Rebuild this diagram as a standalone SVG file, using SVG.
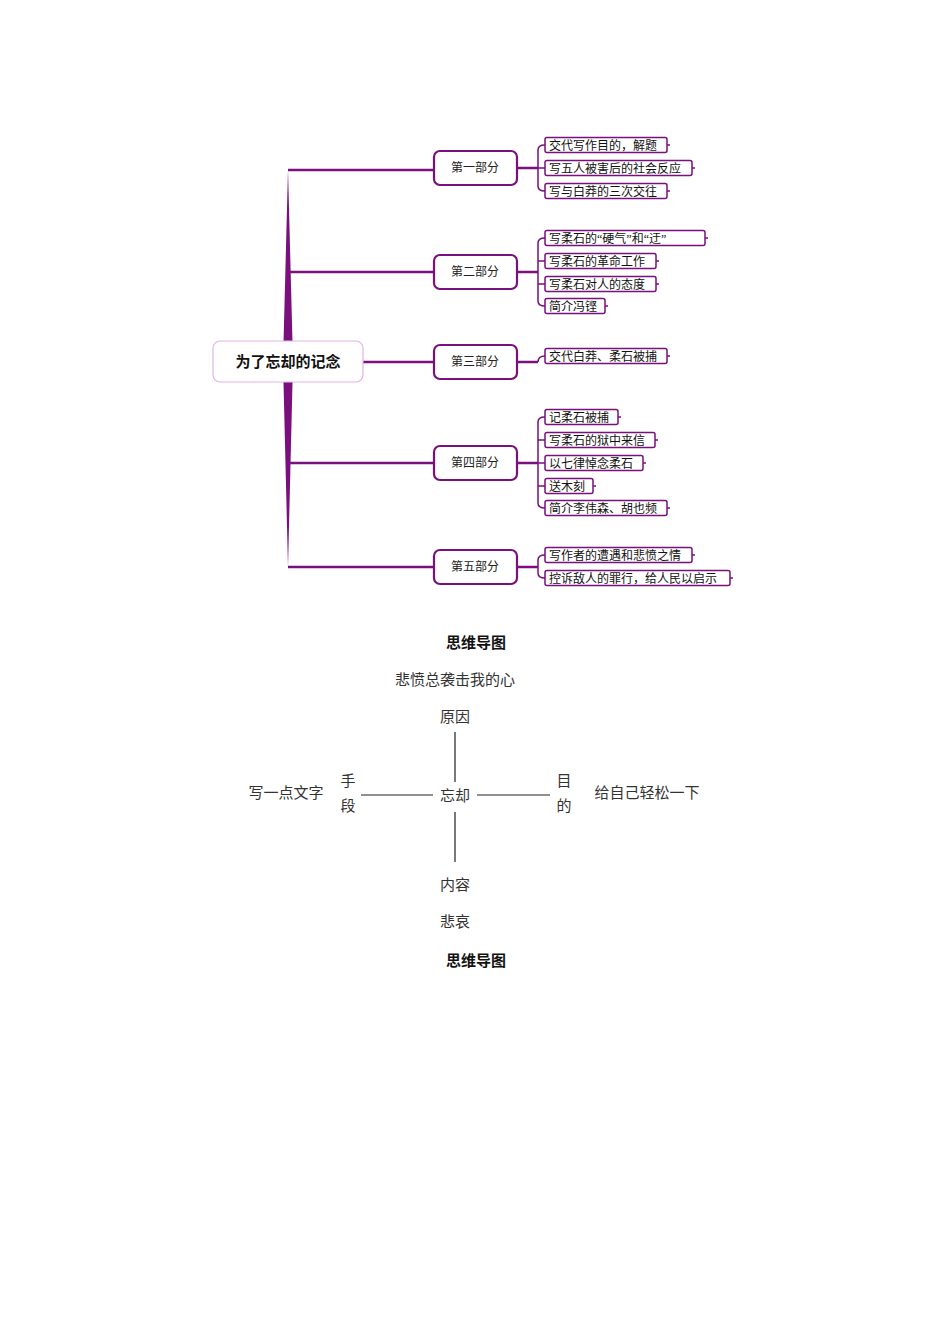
<svg xmlns="http://www.w3.org/2000/svg" width="950" height="1344" viewBox="0 0 950 1344">
<style>
.p{fill:#fff;stroke:#7a0f7e;stroke-width:2.2}
.l{fill:#fff;stroke:#7a0f7e;stroke-width:1.5}
.c{fill:none;stroke:#7a0f7e;stroke-width:2.5}
.cl{fill:none;stroke:#7a0f7e;stroke-width:1.5}
.t{font-family:"Liberation Serif","Noto Sans CJK SC",serif;font-size:12px;fill:#111}
.pt{font-family:"Liberation Serif","Noto Sans CJK SC",serif;font-size:12px;fill:#222;text-anchor:middle}
.b{font-family:"Noto Sans CJK SC",sans-serif;font-size:15px;font-weight:bold;fill:#111;text-anchor:middle}
.k{font-family:"Liberation Serif","Noto Sans CJK SC",serif;font-size:15px;fill:#333}
.x{stroke:#222;stroke-width:1.2}
</style>
<rect width="950" height="1344" fill="#fff"/>
<g id="connectors">
<polygon points="288,170 293,362 288,567 283,362" fill="#7a0f7e"/>
<path class="c" d="M288,170H434 M288,272H434 M288,463H434 M288,567H434 M363,362H434"/>
<path class="c" d="M517,168H538 M517,272H538 M517,362H538 M517,463H538 M517,567H538"/>
<path class="cl" d="M538,168V150Q538,145 545,145 M538,168H545 M538,168V186Q538,191 545,191"/>
<path class="cl" d="M538,272V243Q538,238 545,238 M538,261H545 M538,284H545 M538,272V301Q538,306 545,306"/>
<path class="cl" d="M538,362Q538,356 545,356"/>
<path class="cl" d="M538,463V422Q538,417 545,417 M538,440H545 M538,463H545 M538,486H545 M538,463V503Q538,508 545,508"/>
<path class="cl" d="M538,567V560Q538,555 545,555 M538,567V573Q538,578 545,578"/>
</g>
<g id="root"><rect x="213" y="341" width="150" height="41" rx="7" fill="#fff" stroke="#e2b4e4" stroke-width="1.2"/><text x="288" y="367" class="b">为了忘却的记念</text></g>
<g id="p1"><rect class="p" x="434" y="151" width="83" height="34" rx="6"/><text class="pt" x="475" y="172">第一部分</text></g>
<g id="p2"><rect class="p" x="434" y="255" width="83" height="34" rx="6"/><text class="pt" x="475" y="276">第二部分</text></g>
<g id="p3"><rect class="p" x="434" y="345" width="83" height="34" rx="6"/><text class="pt" x="475" y="366">第三部分</text></g>
<g id="p4"><rect class="p" x="434" y="446" width="83" height="34" rx="6"/><text class="pt" x="475" y="467">第四部分</text></g>
<g id="p5"><rect class="p" x="434" y="550" width="83" height="34" rx="6"/><text class="pt" x="475" y="571">第五部分</text></g>
<g id="l1"><rect class="l" x="545" y="137.5" width="122" height="15" rx="2"/><path class="cl" d="M667,145h3"/><text class="t" x="549" y="149.5">交代写作目的，解题</text></g>
<g id="l2"><rect class="l" x="545" y="160.5" width="147" height="15" rx="2"/><path class="cl" d="M692,168h3"/><text class="t" x="549" y="172.5">写五人被害后的社会反应</text></g>
<g id="l3"><rect class="l" x="545" y="183.5" width="122" height="15" rx="2"/><path class="cl" d="M667,191h3"/><text class="t" x="549" y="195.5">写与白莽的三次交往</text></g>
<g id="l4"><rect class="l" x="545" y="230.5" width="160" height="15" rx="2"/><path class="cl" d="M705,238h3"/><text class="t" x="549" y="242.5">写柔石的“硬气”和“迂”</text></g>
<g id="l5"><rect class="l" x="545" y="253.5" width="111" height="15" rx="2"/><path class="cl" d="M656,261h3"/><text class="t" x="549" y="265.5">写柔石的革命工作</text></g>
<g id="l6"><rect class="l" x="545" y="276.5" width="111" height="15" rx="2"/><path class="cl" d="M656,284h3"/><text class="t" x="549" y="288.5">写柔石对人的态度</text></g>
<g id="l7"><rect class="l" x="545" y="298.5" width="60" height="15" rx="2"/><path class="cl" d="M605,306h3"/><text class="t" x="549" y="310.5">简介冯铿</text></g>
<g id="l8"><rect class="l" x="545" y="348.5" width="122" height="15" rx="2"/><path class="cl" d="M667,356h3"/><text class="t" x="549" y="360.5">交代白莽、柔石被捕</text></g>
<g id="l9"><rect class="l" x="545" y="409.5" width="73" height="15" rx="2"/><path class="cl" d="M618,417h3"/><text class="t" x="549" y="421.5">记柔石被捕</text></g>
<g id="l10"><rect class="l" x="545" y="432.5" width="110" height="15" rx="2"/><path class="cl" d="M655,440h3"/><text class="t" x="549" y="444.5">写柔石的狱中来信</text></g>
<g id="l11"><rect class="l" x="545" y="455.5" width="98" height="15" rx="2"/><path class="cl" d="M643,463h3"/><text class="t" x="549" y="467.5">以七律悼念柔石</text></g>
<g id="l12"><rect class="l" x="545" y="478.5" width="48" height="15" rx="2"/><path class="cl" d="M593,486h3"/><text class="t" x="549" y="490.5">送木刻</text></g>
<g id="l13"><rect class="l" x="545" y="500.5" width="122" height="15" rx="2"/><path class="cl" d="M667,508h3"/><text class="t" x="549" y="512.5">简介李伟森、胡也频</text></g>
<g id="l14"><rect class="l" x="545" y="547.5" width="147" height="15" rx="2"/><path class="cl" d="M692,555h3"/><text class="t" x="549" y="559.5">写作者的遭遇和悲愤之情</text></g>
<g id="l15"><rect class="l" x="545" y="570.5" width="185" height="15" rx="2"/><path class="cl" d="M730,578h3"/><text class="t" x="549" y="582.5">控诉敌人的罪行，给人民以启示</text></g>
<text x="476" y="648" class="b">思维导图</text>
<g id="cross">
<path class="x" d="M455,732V782 M455,812V862 M361,795H433 M477,795H550"/>
<text class="k" x="455" y="685" text-anchor="middle">悲愤总袭击我的心</text>
<text class="k" x="455" y="722" text-anchor="middle">原因</text>
<text class="k" x="455" y="801" text-anchor="middle">忘却</text>
<text class="k" x="455" y="890" text-anchor="middle">内容</text>
<text class="k" x="455" y="927" text-anchor="middle">悲哀</text>
<text class="k" x="286" y="798" text-anchor="middle">写一点文字</text>
<text class="k" x="348" y="786" text-anchor="middle">手</text>
<text class="k" x="348" y="811" text-anchor="middle">段</text>
<text class="k" x="564" y="786" text-anchor="middle">目</text>
<text class="k" x="564" y="811" text-anchor="middle">的</text>
<text class="k" x="647" y="798" text-anchor="middle">给自己轻松一下</text>
</g>
<text x="476" y="966" class="b">思维导图</text>
</svg>
